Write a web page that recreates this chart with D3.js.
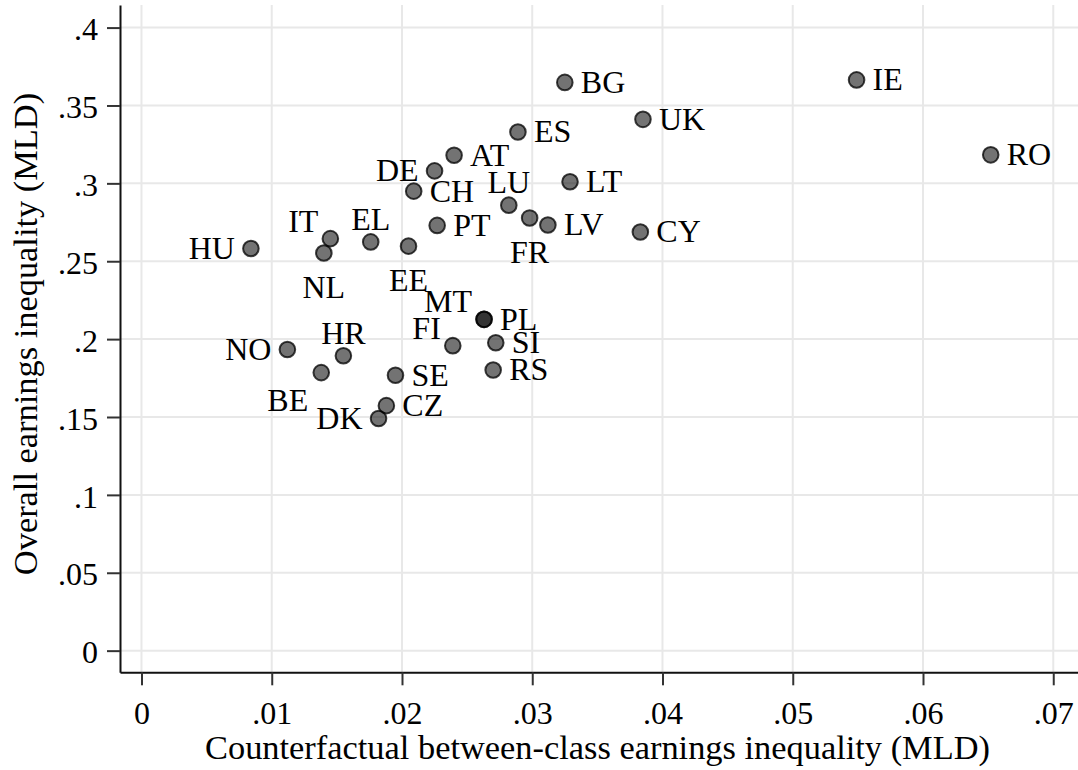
<!DOCTYPE html>
<html>
<head>
<meta charset="utf-8">
<script src="https://cdn.jsdelivr.net/npm/d3@7"></script>
<style>
  body { margin:0; background:#fff; }
  svg { display:block; }
</style>
</head>
<body>
<svg id="board" width="1078" height="770"></svg>
<script>
// country codes, x = counterfactual between-class MLD, y = overall MLD
var countries = ["HU","IT","NL","EL","EE","DE","AT","CH","PT","LU",
                 "FR","LV","LT","ES","BG","UK","IE","RO","CY","MT",
                 "PL","SI","FI","NO","HR","RS","BE","SE","CZ","DK"];
var xValues = [0.0084,0.0145,0.0140,0.0176,0.0205,0.0225,0.0240,0.0209,0.0227,0.0282,
               0.0298,0.0312,0.0329,0.0289,0.0325,0.0385,0.0549,0.0652,0.0383,0.0263,
               0.0263,0.0272,0.0239,0.0112,0.0155,0.0270,0.0138,0.0195,0.0188,0.0182];
var yValues = [0.2582,0.2645,0.2553,0.2624,0.2597,0.3080,0.3180,0.2950,0.2730,0.2860,
               0.2778,0.2733,0.3010,0.3330,0.3648,0.3411,0.3664,0.3183,0.2688,0.2127,
               0.2127,0.1977,0.1958,0.1933,0.1893,0.1802,0.1785,0.1768,0.1573,0.1490];
// label position as clock hour (Stata mlabpos)
var labelPos = [9,11,6,12,6,9,3,3,3,12,
                6,3,3,3,3,3,3,3,3,11,
                3,3,11,9,12,3,7,3,3,9];

var xTicks = [0,0.01,0.02,0.03,0.04,0.05,0.06,0.07];
var yTicks = [0,0.05,0.1,0.15,0.2,0.25,0.3,0.35,0.4];
var xTitle = "Counterfactual between-class earnings inequality (MLD)";
var yTitle = "Overall earnings inequality (MLD)";

var board = d3.select("#board");
var font = "'Liberation Serif','Times New Roman',serif";

var x = d3.scaleLinear().domain([-0.00165,0.0719]).range([120,1078]);
var y = d3.scaleLinear().domain([-0.0139,0.4145]).range([672.3,5]);

function fmt(v)
{
  if(v===0) return "0";
  return d3.format(".2~f")(v).replace(/^0\./,".");
}

// grid
board.append("g").selectAll("line.vg")
      .data(xTicks).enter().append("line")
      .attr("class","vg")
      .attr("x1",function(d){return x(d);})
      .attr("x2",function(d){return x(d);})
      .attr("y1",y.range()[1])
      .attr("y2",y.range()[0])
      .attr("stroke","#e8e8e8")
      .attr("stroke-width",2);
board.append("g").selectAll("line.hg")
      .data(yTicks).enter().append("line")
      .attr("class","hg")
      .attr("x1",x.range()[0])
      .attr("x2",x.range()[1])
      .attr("y1",function(d){return y(d);})
      .attr("y2",function(d){return y(d);})
      .attr("stroke","#e8e8e8")
      .attr("stroke-width",2);

// axes
var xAxis = board.append("g")
      .attr("transform","translate(0,672.3)")
      .call(d3.axisBottom(x).tickValues(xTicks).tickFormat(fmt).tickSize(13).tickSizeOuter(0).tickPadding(16));
var yAxis = board.append("g")
      .attr("transform","translate(120,0)")
      .call(d3.axisLeft(y).tickValues(yTicks).tickFormat(fmt).tickSize(13).tickSizeOuter(0).tickPadding(9));

[xAxis,yAxis].forEach(function(a)
{
  a.select(".domain").attr("stroke","#111").attr("stroke-width",2);
  a.selectAll(".tick line").attr("stroke","#333").attr("stroke-width",2);
  a.selectAll(".tick text")
      .attr("fill","#000")
      .style("font-family",font)
      .style("font-size","32px");
});
yAxis.selectAll(".tick text").attr("dy","0.38em");

// titles
board.append("text")
      .attr("x",597.5)
      .attr("y",759)
      .attr("text-anchor","middle")
      .style("font-family",font)
      .style("font-size","34.4px")
      .attr("fill","#000")
      .text(xTitle);
board.append("text")
      .attr("transform","translate(37,334) rotate(-90)")
      .attr("text-anchor","middle")
      .style("font-family",font)
      .style("font-size","34.4px")
      .attr("fill","#000")
      .text(yTitle);

// points
var idx = d3.range(countries.length);
board.append("g").selectAll("circle")
      .data(idx).enter().append("circle")
      .attr("cx",function(i){return x(xValues[i]);})
      .attr("cy",function(i){return y(yValues[i]);})
      .attr("r",7.8)
      .attr("fill","#000")
      .attr("fill-opacity",0.55)
      .attr("stroke","#000")
      .attr("stroke-opacity",0.75)
      .attr("stroke-width",2);

// labels
function labelOffset(p)
{
  if(p===3)  return {dx:16, dy:10.5, anchor:"start"};
  if(p===9)  return {dx:-16,dy:10.5, anchor:"end"};
  if(p===12) return {dx:0,  dy:-12,  anchor:"middle"};
  if(p===6)  return {dx:0,  dy:45,   anchor:"middle"};
  if(p===11) return {dx:-12,dy:-7,   anchor:"end"};
  if(p===7)  return {dx:-13,dy:38,   anchor:"end"};
  return {dx:0,dy:0,anchor:"middle"};
}

board.append("g").selectAll("text")
      .data(idx).enter().append("text")
      .attr("x",function(i){return x(xValues[i]) + labelOffset(labelPos[i]).dx;})
      .attr("y",function(i){return y(yValues[i]) + labelOffset(labelPos[i]).dy;})
      .attr("text-anchor",function(i){return labelOffset(labelPos[i]).anchor;})
      .style("font-family",font)
      .style("font-size","32px")
      .attr("fill","#000")
      .text(function(i){return countries[i];});
</script>
</body>
</html>
